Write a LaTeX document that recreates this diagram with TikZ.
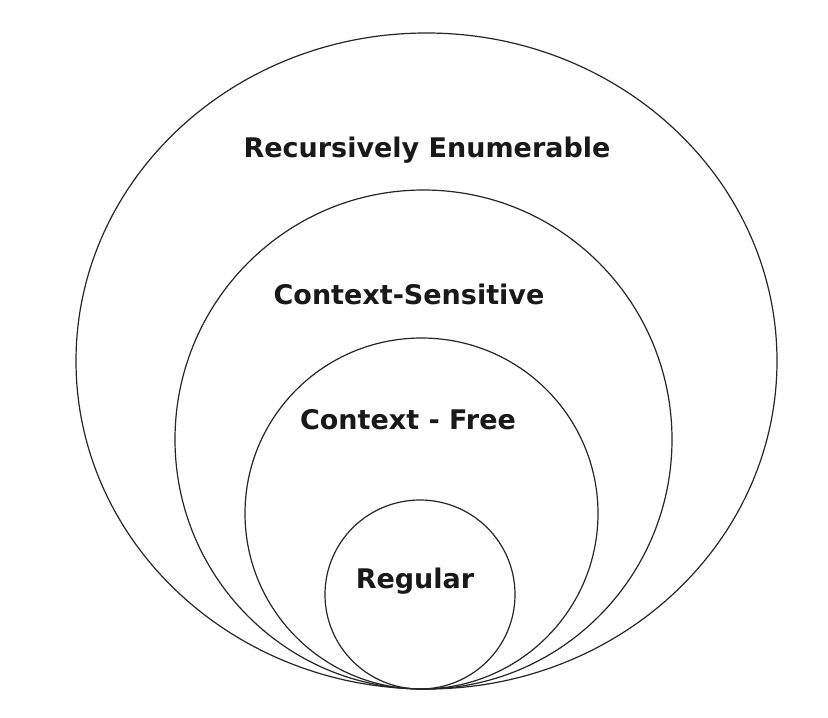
\documentclass[tikz,border=0pt]{standalone}
\usepackage{fontspec}
\setmainfont{DejaVu Sans}
\usetikzlibrary{shapes.geometric}
\begin{document}
\begin{tikzpicture}[x=1pt,y=-1pt,
  class/.style={draw=black!85,line width=1.2pt,ellipse,inner sep=0pt},
  lbl/.style={font=\bfseries\fontsize{27}{30}\selectfont,text=black!90,inner sep=0pt,anchor=base}]
  \useasboundingbox[fill=white] (0,0) rectangle (828,718);
  % nested language classes, all touching at the bottom
  \node[class,minimum width=701pt,minimum height=656pt] (re)  at (426.5,361) {};
  \node[class,minimum width=497pt,minimum height=499pt] (cs)  at (423.5,439.5) {};
  \node[class,minimum width=353pt,minimum height=351pt] (cf)  at (421.5,513.5) {};
  \node[class,minimum width=190pt,minimum height=189pt] (reg) at (420,594.5) {};
  % class names
  \node[lbl] (tre)  at (427,157) {Recursively Enumerable};
  \node[lbl] (tcs)  at (409,304) {Context-Sensitive};
  \node[lbl] (tcf)  at (408,429) {Context - Free};
  \node[lbl] (treg) at (415,588) {Regular};
\end{tikzpicture}
\end{document}
